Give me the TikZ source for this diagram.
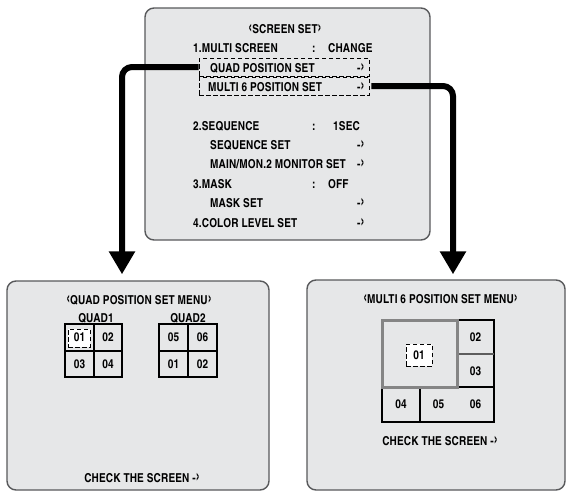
\documentclass[tikz,border=0pt]{standalone}
\usepackage{fontspec}
\setmainfont{texgyreheroscn-bold.otf}[LetterSpace=1]
\usepackage{tikz}
\usetikzlibrary{arrows.meta,positioning}
\definecolor{screengray}{HTML}{E6E7E8}
\definecolor{framegray}{HTML}{58595B}
\definecolor{cellgray}{HTML}{858585}

\newcommand\olt{\raisebox{-.3pt}{\scalebox{1.15}[1.55]{‹}}}
\newcommand\ogt{\raisebox{-.3pt}{\scalebox{1.15}[1.55]{›}}}

\tikzset{
  screen/.style={draw=framegray,fill=screengray,line width=1.4pt,rounded corners=9pt,inner sep=0pt},
  osd/.style={font=\fontsize{12.3}{13}\selectfont,inner sep=0pt},
  selbox/.style={draw=black,fill=white,dash pattern=on 4.5pt off 2.5pt,line width=.8pt,inner sep=0pt},
  jump/.style={line width=6pt,rounded corners=10pt,-{Triangle[width=25pt,length=23pt]}},
  gridline/.style={line width=2.2pt}
}

\begin{document}
\begin{tikzpicture}[x=1pt,y=-1pt]
        \useasboundingbox (0,0) rectangle (566,491);
        % screens
        \node[screen,minimum width=285pt,minimum height=232pt] (screenset) at (287.5,124) {};
        \node[screen,minimum width=262pt,minimum height=209pt] (quadmenu) at (138,385.5) {};
        \node[screen,minimum width=258pt,minimum height=210pt] (multimenu) at (436,385) {};
        
        % selected lines
        \node[selbox,fill=screengray,minimum width=170pt,minimum height=18pt] (quadset) at (284,67) {};
        \node[selbox,fill=screengray,minimum width=170pt,minimum height=18pt] (multiset) at (284,86) {};
        
        % top menu text
        \node[osd,anchor=base] (title) at (285,33) {\olt SCREEN SET\ogt};
        \node[osd,anchor=base west] (multiscreen) at (193,52) {1.MULTI SCREEN};
        \node[osd,anchor=base west] (colon1) at (312,52) {:};
        \node[osd,anchor=base west] (change) at (328,52) {CHANGE};
        \node[osd,anchor=base west] (quadtext) at (210,72) {QUAD POSITION SET};
        \node[osd,anchor=base west] (arrow1) at (357,72) {-\ogt};
        \node[osd,anchor=base west] (multitext) at (208,91) {MULTI 6 POSITION SET};
        \node[osd,anchor=base west] (arrow2) at (357,91) {-\ogt};
        \node[osd,anchor=base west] (sequence) at (193,130) {2.SEQUENCE};
        \node[osd,anchor=base west] (colon2) at (312,130) {:};
        \node[osd,anchor=base west] (onesec) at (333,130) {1SEC};
        \node[osd,anchor=base west] (seqset) at (210,149) {SEQUENCE SET};
        \node[osd,anchor=base west] (arrow3) at (357,149) {-\ogt};
        \node[osd,anchor=base west] (monitor) at (210,168) {MAIN/MON.2 MONITOR SET};
        \node[osd,anchor=base west] (arrow4) at (357,168) {-\ogt};
        \node[osd,anchor=base west] (mask) at (193,188) {3.MASK};
        \node[osd,anchor=base west] (colon3) at (312,188) {:};
        \node[osd,anchor=base west] (off) at (328,188) {OFF};
        \node[osd,anchor=base west] (maskset) at (210,207) {MASK SET};
        \node[osd,anchor=base west] (arrow5) at (357,207) {-\ogt};
        \node[osd,anchor=base west] (color) at (193,227) {4.COLOR LEVEL SET};
        \node[osd,anchor=base west] (arrow6) at (357,227) {-\ogt};
        
        % jumps to the sub menus
        \draw[jump,shorten >=6pt] (quadset.west) -| ([xshift=-16pt]quadmenu.north);
        \draw[jump,shorten >=5pt] ([xshift=2pt]multiset.east) -| ([xshift=17pt]multimenu.north);
        
        % quad position set menu
        \node[osd,anchor=base] (quadtitle) at (139,304) {\olt QUAD POSITION SET MENU\ogt};
        \node[osd,anchor=base] (quadone) at (96,322) {QUAD1};
        \node[osd,anchor=base] (quadtwo) at (188,322) {QUAD2};
        \draw[gridline] (65,324) rectangle (122,377) (94,324) -- (94,377) (65,351) -- (122,351);
        \draw[gridline] (159,324) rectangle (217,377) (188,324) -- (188,377) (159,351) -- (217,351);
        \node[selbox,minimum width=22pt,minimum height=18pt] (qsel) at (79,338) {};
        \node[osd] (qa) at (79.5,337.5) {01};
        \node[osd] (qb) at (108,337.5) {02};
        \node[osd] (qc) at (79.5,364) {03};
        \node[osd] (qd) at (108,364) {04};
        \node[osd] (qe) at (173.5,337.5) {05};
        \node[osd] (qf) at (202.5,337.5) {06};
        \node[osd] (qg) at (173.5,364) {01};
        \node[osd] (qh) at (202.5,364) {02};
        \node[osd,anchor=base] (quadcheck) at (142,482) {CHECK THE SCREEN -\ogt};
        
        % multi 6 position set menu
        \node[osd,anchor=base] (multititle) at (440.5,303.5) {\olt MULTI 6 POSITION SET MENU\ogt};
        \draw[gridline] (457,320) -- (494,320) -- (494,422) -- (382,422) -- (382,387) (420,387) -- (420,422) (457,387) -- (494,387);
        \draw[line width=1.6pt,cellgray!70!black] (457,354) -- (494,354);
        \draw[line width=3pt,cellgray] (382,320) rectangle (457,387);
        \node[selbox,minimum width=26pt,minimum height=22pt] (msel) at (419,355) {};
        \node[osd] (ma) at (419,355) {01};
        \node[osd] (mb) at (475.5,337.5) {02};
        \node[osd] (mc) at (475.5,371) {03};
        \node[osd] (md) at (401,404.5) {04};
        \node[osd] (me) at (438.5,404.5) {05};
        \node[osd] (mf) at (475.5,404.5) {06};
        \node[osd,anchor=base] (multicheck) at (440,445) {CHECK THE SCREEN -\ogt};
    \end{tikzpicture}
\end{document}
